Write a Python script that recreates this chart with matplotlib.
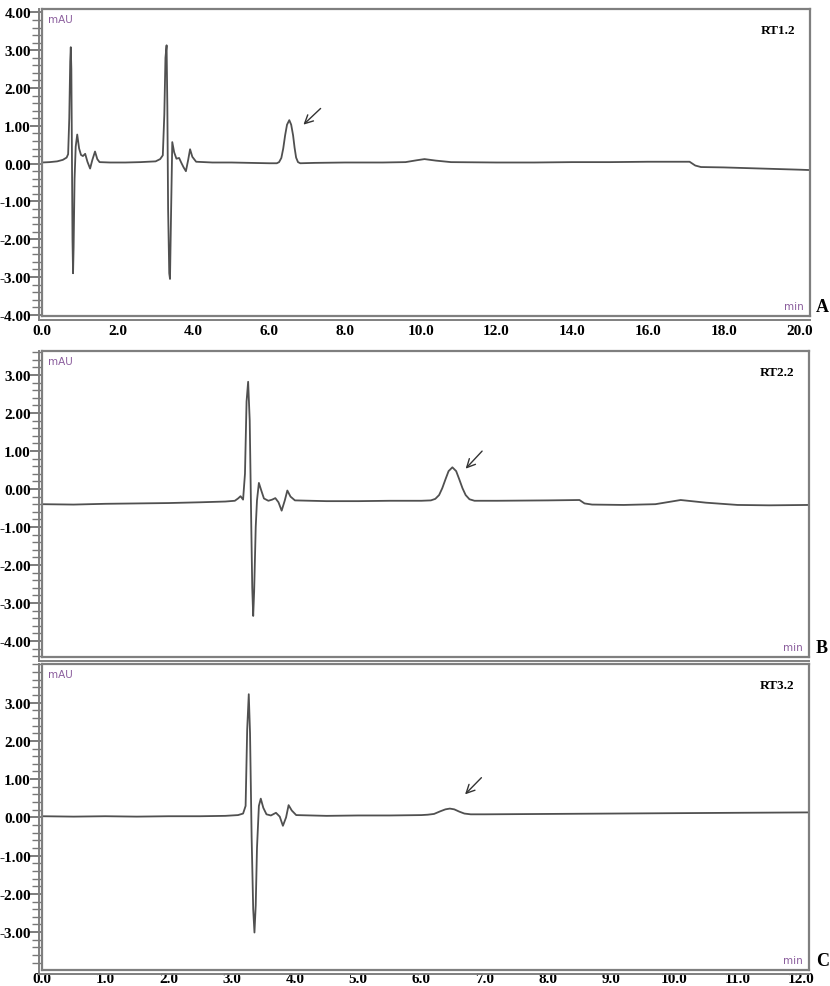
import matplotlib
matplotlib.use("Agg")
import matplotlib.pyplot as plt
from matplotlib.ticker import MultipleLocator, FixedLocator
from matplotlib.lines import Line2D

# ---------------- data ----------------
# Panel A : time (min) / signal (mAU)
a_t = [0.00, 0.20, 0.40, 0.55, 0.65, 0.69, 0.72, 0.745, 0.76, 0.775, 0.79, 0.805, 0.82, 0.835, 0.86, 0.89,
       0.93, 0.98, 1.03, 1.08, 1.14, 1.20, 1.27, 1.33, 1.40, 1.46, 1.52, 1.80, 2.20, 2.60, 3.00, 3.12,
       3.19, 3.23, 3.26, 3.29, 3.31, 3.33, 3.36, 3.38, 3.41, 3.44, 3.49, 3.55, 3.62, 3.68, 3.74, 3.80,
       3.86, 3.91, 3.97, 4.07, 4.50, 5.00, 5.50, 6.00, 6.20, 6.26, 6.32, 6.37, 6.42, 6.47, 6.53, 6.58,
       6.63, 6.67, 6.71, 6.76, 6.82, 7.20, 8.00, 9.00, 9.60, 9.90, 10.10, 10.40, 10.80, 12.00, 13.00,
       14.00, 15.00, 16.00, 17.10, 17.25, 17.40, 18.00, 19.00, 20.00, 20.28]
a_y = [0.03, 0.04, 0.06, 0.10, 0.16, 0.25, 1.20, 2.70, 3.08, 2.50, 0.30, -2.00, -2.90, -2.20, -0.40, 0.45,
       0.77, 0.40, 0.23, 0.20, 0.26, 0.05, -0.13, 0.10, 0.32, 0.12, 0.04, 0.03, 0.03, 0.04, 0.06, 0.12,
       0.22, 1.30, 2.80, 3.13, 1.50, -1.20, -2.90, -3.05, -1.20, 0.57, 0.30, 0.13, 0.15, 0.02, -0.10, -0.20,
       0.10, 0.38, 0.18, 0.05, 0.03, 0.03, 0.02, 0.01, 0.01, 0.04, 0.15, 0.40, 0.75, 1.03, 1.15, 1.03,
       0.75, 0.42, 0.16, 0.04, 0.01, 0.02, 0.03, 0.03, 0.04, 0.09, 0.12, 0.08, 0.04, 0.03, 0.03,
       0.04, 0.04, 0.05, 0.05, -0.05, -0.09, -0.10, -0.13, -0.16, -0.17]

# Panel B
b_t = [0.00, 0.50, 1.00, 1.50, 2.00, 2.50, 2.90, 3.05, 3.10, 3.14, 3.18, 3.21, 3.235, 3.26, 3.285, 3.31,
       3.325, 3.34, 3.355, 3.38, 3.40, 3.43, 3.47, 3.51, 3.58, 3.64, 3.69, 3.74, 3.79, 3.84, 3.88, 3.93,
       4.00, 4.50, 5.00, 5.50, 6.00, 6.15, 6.22, 6.28, 6.33, 6.38, 6.43, 6.49, 6.55, 6.60, 6.65, 6.70,
       6.76, 6.84, 7.20, 8.00, 8.50, 8.58, 8.70, 9.20, 9.70, 10.10, 10.50, 11.00, 11.50, 12.13]
b_y = [-0.40, -0.41, -0.39, -0.38, -0.37, -0.35, -0.33, -0.31, -0.25, -0.19, -0.28, 0.40, 2.30, 2.82, 1.80, -1.00,
       -2.60, -3.34, -2.70, -1.00, -0.30, 0.16, -0.05, -0.25, -0.31, -0.28, -0.24, -0.35, -0.57, -0.30, -0.04, -0.20,
       -0.30, -0.32, -0.32, -0.31, -0.31, -0.30, -0.26, -0.16, 0.02, 0.25, 0.47, 0.57, 0.47, 0.25, 0.02, -0.16,
       -0.27, -0.31, -0.31, -0.30, -0.29, -0.38, -0.41, -0.42, -0.40, -0.29, -0.36, -0.42, -0.43, -0.42]

# Panel C
c_t = [0.00, 0.50, 1.00, 1.50, 2.00, 2.50, 2.90, 3.10, 3.18, 3.22, 3.245, 3.27, 3.29, 3.315, 3.34, 3.36,
       3.38, 3.40, 3.43, 3.46, 3.50, 3.55, 3.62, 3.70, 3.76, 3.81, 3.86, 3.90, 3.95, 4.02, 4.50, 5.00,
       5.50, 6.00, 6.10, 6.20, 6.30, 6.38, 6.45, 6.52, 6.60, 6.68, 6.78, 7.00, 8.00, 9.00, 10.00, 11.00, 12.13]
c_y = [0.03, 0.02, 0.03, 0.02, 0.03, 0.03, 0.04, 0.06, 0.10, 0.30, 2.30, 3.22, 2.20, -0.50, -2.40, -3.01,
       -2.30, -0.80, 0.30, 0.49, 0.25, 0.08, 0.05, 0.12, 0.02, -0.22, 0.00, 0.32, 0.18, 0.06, 0.04, 0.05,
       0.05, 0.06, 0.07, 0.09, 0.16, 0.21, 0.23, 0.21, 0.15, 0.10, 0.08, 0.08, 0.09, 0.10, 0.11, 0.12, 0.13]

panel_letters = ["A", "B", "C"]
rt_labels = ["RT1.2", "RT2.2", "RT3.2"]
y_tick_vals = [-4, -3, -2, -1, 0, 1, 2, 3, 4]
a_xticks = [0, 2, 4, 6, 8, 10, 12, 14, 16, 18, 20]
c_xticks = [0, 1, 2, 3, 4, 5, 6, 7, 8, 9, 10, 11, 12]
# arrows: (tail x, tail y, head x, head y)
arrows = [(7.41, 1.51, 6.85, 0.98), (6.99, 1.05, 6.67, 0.48), (6.98, 1.09, 6.66, 0.55)]

# ---------------- figure ----------------
W, H = 830, 987
fig = plt.figure(figsize=(W / 100, H / 100), dpi=100)
fig.patch.set_facecolor("white")

def ax_rect(l, r, t, b):
    return [l / W, 1 - b / H, (r - l) / W, (b - t) / H]

rects = [ax_rect(42, 810, 10, 317), ax_rect(42, 809, 352, 658), ax_rect(42, 809, 665, 971)]
xlims = [(0, 20.28), (0, 12.13), (0, 12.13)]
ylims = [(-4.03, 4.09), (-4.42, 3.63), (-3.99, 4.01)]
yticks = [y_tick_vals, y_tick_vals[:-1], y_tick_vals[:-1]]
xticks = [a_xticks, [], c_xticks]
xpads = [6, 6, 1.5]
data = [(a_t, a_y), (b_t, b_y), (c_t, c_y)]

tick_font = dict(family="Liberation Serif", weight="bold", size=11)
frame_col = "#7f7f7f"

for i in range(3):
    ax = fig.add_axes(rects[i])
    t, y = data[i]
    ax.plot(t, y, color="#505050", lw=1.3, solid_joinstyle="round")
    ax.set_xlim(*xlims[i])
    ax.set_ylim(*ylims[i])
    ax.yaxis.set_major_locator(FixedLocator(yticks[i]))
    ax.yaxis.set_minor_locator(MultipleLocator(0.2))
    ax.set_yticklabels([f"{v:.2f}" for v in yticks[i]], fontdict=tick_font)
    ax.set_xticks(xticks[i])
    ax.set_xticklabels([f"{v:.1f}" for v in xticks[i]], fontdict=tick_font)
    ax.tick_params(axis="x", length=0, pad=xpads[i])
    ax.tick_params(axis="y", which="major", length=9, width=1.2, color="#666666", pad=-1, direction="out")
    ax.tick_params(axis="y", which="minor", length=7, width=1.0, color="#777777", direction="out")
    for s in ax.spines.values():
        s.set_color(frame_col)
        s.set_linewidth(1.6)
    # double line on left and bottom
    pos = ax.get_position()
    fig.add_artist(Line2D([pos.x0 - 3.5 / W] * 2, [pos.y0 - 3.5 / H, pos.y1], color=frame_col, lw=1.4))
    fig.add_artist(Line2D([pos.x0 - 3.5 / W, pos.x1], [pos.y0 - 3.5 / H] * 2, color=frame_col, lw=1.4))

    ax.text(0.008, 0.985, "mAU", transform=ax.transAxes, ha="left", va="top",
            fontsize=7.5, color="#8a5c9c", family="DejaVu Sans")
    ax.text(0.992, 0.015, "min", transform=ax.transAxes, ha="right", va="bottom",
            fontsize=7.5, color="#8a5c9c", family="DejaVu Sans")
    ax.text(0.981, 0.93, rt_labels[i], transform=ax.transAxes, ha="right", va="center",
            family="Liberation Serif", weight="bold", fontsize=9.5)
    fig.text(816 / W, pos.y0 + 1 / H, panel_letters[i], ha="left", va="bottom",
             family="Liberation Serif", weight="bold", fontsize=13)

    tx, ty, hx, hy = arrows[i]
    ax.annotate("", xy=(hx, hy), xytext=(tx, ty),
                arrowprops=dict(arrowstyle="->,head_length=0.6,head_width=0.3", color="#333333", lw=1.0))

fig.savefig("out.png", dpi=100, facecolor="white")
